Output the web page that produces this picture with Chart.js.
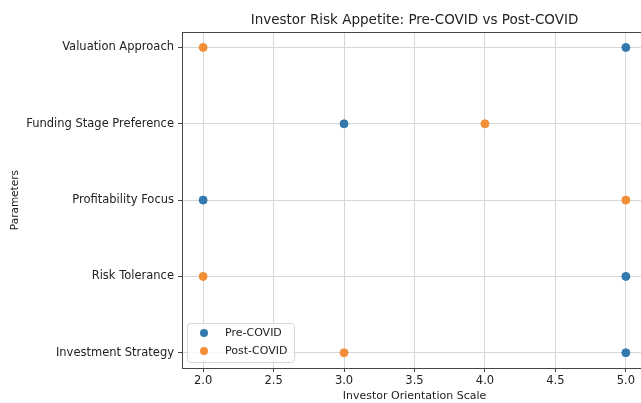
<!DOCTYPE html>
<html lang="en">
<head>
  <meta charset="UTF-8">
  <title>Investor Risk Appetite</title>
  <script src="https://cdn.jsdelivr.net/npm/chart.js"></script>
  <style>
    html, body { margin: 0; padding: 0; background: #fff; overflow: hidden; }
    .wrap { width: 660px; height: 403px; position: relative; }
  </style>
</head>
<body>
<div class="wrap">
  <canvas id="riskChart" width="660" height="403"></canvas>
</div>

<script>
  // categories from bottom to top, as on the y axis
  const categories = ["Investment Strategy", "Risk Tolerance", "Profitability Focus", "Funding Stage Preference", "Valuation Approach"];
  const preCovid = [5, 5, 2, 3, 5];
  const postCovid = [3, 2, 5, 4, 2];
  const xTicks = [2.0, 2.5, 3.0, 3.5, 4.0, 4.5, 5.0];

  const font = "'DejaVu Sans', sans-serif";
  const blue = '#3479ad';
  const orange = '#f28e35';

  // legend sits inside the plot, lower left, like matplotlib
  const innerLegend = {
    id: 'innerLegend',
    afterDraw(chart) {
      const ctx = chart.ctx;
      const a = chart.chartArea;
      const x = a.left + 5, y = a.bottom - 45, w = 107, h = 39;
      ctx.save();
      ctx.fillStyle = 'rgba(255,255,255,0.8)';
      ctx.strokeStyle = '#d5d5d5';
      ctx.lineWidth = 1;
      ctx.beginPath();
      ctx.roundRect(x + 0.5, y + 0.5, w, h, 3);
      ctx.fill();
      ctx.stroke();
      ctx.font = '11px ' + font;
      ctx.textBaseline = 'middle';
      chart.data.datasets.forEach((ds, i) => {
        const ry = y + 10 + i * 18;
        ctx.fillStyle = ds.backgroundColor;
        ctx.beginPath();
        ctx.arc(x + 17, ry, 4, 0, Math.PI * 2);
        ctx.fill();
        ctx.fillStyle = '#222';
        ctx.fillText(ds.label, x + 38, ry);
      });
      ctx.restore();
    }
  };

  const frame = {
    id: 'frame',
    afterDatasetsDraw(chart) {
      const ctx = chart.ctx;
      const a = chart.chartArea;
      ctx.save();
      ctx.strokeStyle = '#444';
      ctx.lineWidth = 1;
      ctx.strokeRect(Math.round(a.left) + 0.5, Math.round(a.top) + 0.5, Math.round(a.right - a.left), Math.round(a.bottom - a.top));
      ctx.restore();
    }
  };

  new Chart(document.getElementById("riskChart"), {
    type: 'scatter',
    data: {
      datasets: [
        {
          label: 'Pre-COVID',
          data: preCovid.map((v, i) => ({ x: v, y: i })),
          backgroundColor: blue,
          borderColor: blue,
          pointRadius: 4,
          pointHoverRadius: 4
        },
        {
          label: 'Post-COVID',
          data: postCovid.map((v, i) => ({ x: v, y: i })),
          backgroundColor: orange,
          borderColor: orange,
          pointRadius: 4,
          pointHoverRadius: 4
        }
      ]
    },
    options: {
      responsive: false,
      animation: false,
      layout: { padding: { left: 0, right: 13, top: 0, bottom: 0 } },
      plugins: {
        legend: { display: false },
        tooltip: { enabled: false },
        title: {
          display: true,
          fullSize: false,
          text: 'Investor Risk Appetite: Pre-COVID vs Post-COVID',
          color: '#222',
          font: { family: font, size: 13.5, weight: 'normal' },
          padding: { top: 12, bottom: 4 }
        }
      },
      scales: {
        x: {
          type: 'linear',
          min: 1.85,
          max: 5.15,
          afterBuildTicks: s => { s.ticks = xTicks.map(v => ({ value: v })); },
          afterFit: s => { s.height = 35; },
          grid: { color: '#d6d6d6', tickLength: 4, tickColor: '#444' },
          border: { display: false },
          ticks: {
            color: '#222',
            padding: 2,
            maxRotation: 0,
            font: { family: font, size: 11.5 },
            callback: v => Number(v).toFixed(1)
          },
          title: {
            display: true,
            text: 'Investor Orientation Scale',
            color: '#222',
            font: { family: font, size: 11 },
            padding: { top: 0, bottom: 0 }
          }
        },
        y: {
          type: 'linear',
          min: -0.2,
          max: 4.2,
          afterBuildTicks: s => { s.ticks = categories.map((c, i) => ({ value: i })); },
          afterFit: s => { s.width = 182; },
          grid: { color: '#d6d6d6', tickLength: 4, tickColor: '#444' },
          border: { display: false },
          ticks: {
            color: '#222',
            padding: 4,
            font: { family: font, size: 11.5 },
            callback: v => categories[v]
          },
          title: {
            display: true,
            text: 'Parameters',
            color: '#222',
            font: { family: font, size: 10.5 },
            padding: { top: 9, bottom: 0 }
          }
        }
      }
    },
    plugins: [frame, innerLegend]
  });
</script>
</body>
</html>
